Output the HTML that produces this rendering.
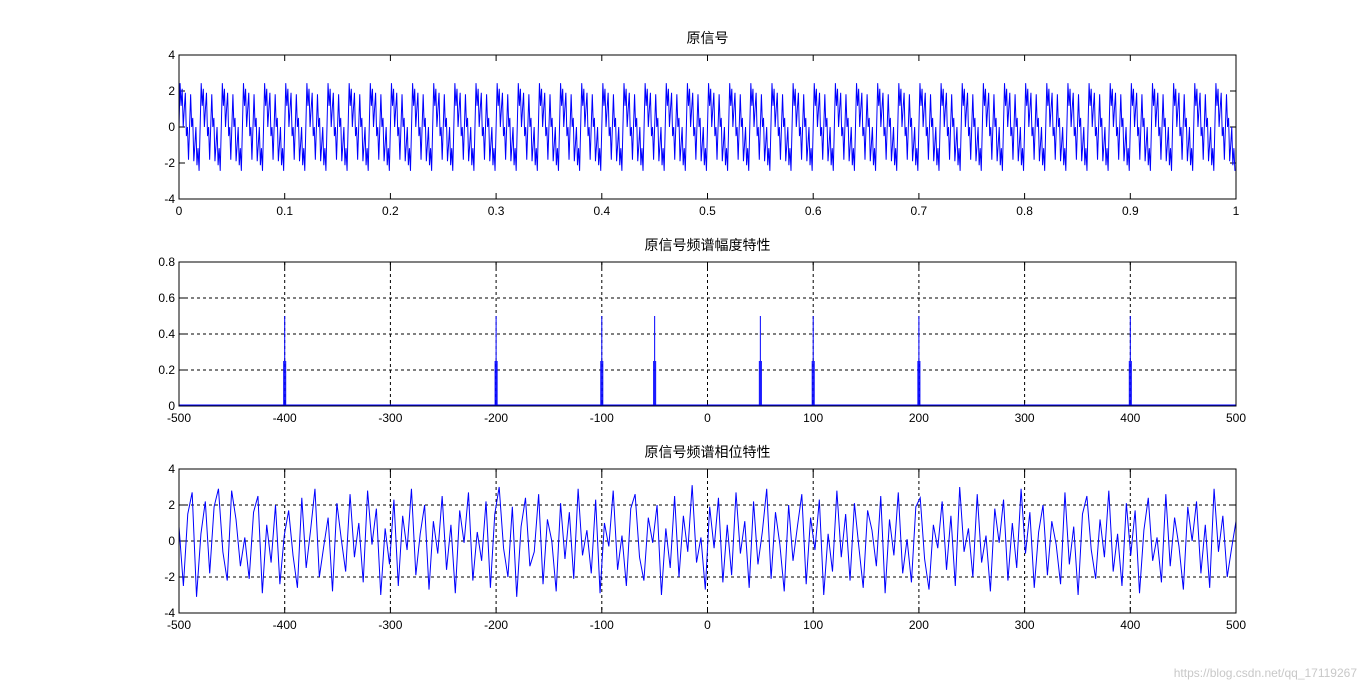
<!DOCTYPE html>
<html><head><meta charset="utf-8"><style>
body{margin:0;background:#fff;}
svg text{font-family:"Liberation Sans","Noto Sans CJK SC",sans-serif;font-size:12px;fill:#000;}
</style></head><body>
<svg id="c" width="1366" height="690" xmlns="http://www.w3.org/2000/svg">
<rect width="1366" height="690" fill="#fff"/>
<text x="1357" y="677" text-anchor="end" style="fill:#c8c8c8;font-size:12px">https://blog.csdn.net/qq_17119267</text>
</svg>
<script>
const sigFreqs=[50,100,200,400];
const sigAmps=[1.0,1.0,1.0,1.0];
const specFreqs=[-400,-200,-100,-50,50,100,200,400];
const specMags=[0.5,0.5,0.5,0.5,0.5,0.5,0.5,0.5];
const specSide=[0.25,0.25,0.25,0.25,0.25,0.25,0.25,0.25];
const phaseVals=[0.8,-2.5,1.5,2.7,-3.1,0.4,2.2,-1.8,1.9,2.9,-0.6,-2.2,2.8,1.2,-1.4,0.2,-2.1,1.6,2.5,-2.9,0.9,-1.2,2.0,-2.4,0.3,1.7,-0.8,-2.6,2.4,-1.5,0.6,2.9,-2.0,-0.3,1.3,-2.8,2.1,0.1,-1.7,2.6,-0.9,1.0,-2.3,2.8,-0.2,1.8,-3.0,0.7,-1.3,2.3,-2.5,1.4,-0.5,2.9,-1.9,0.4,2.0,-2.7,1.1,-0.7,2.5,-1.6,0.9,-2.9,1.7,-0.1,2.7,-2.2,0.5,-1.1,2.2,-2.6,1.5,3.0,-0.4,-2.0,1.9,-3.1,0.8,2.4,-1.4,-0.6,2.6,-2.4,1.2,0.0,-2.8,2.1,-1.0,1.6,-2.1,2.9,-0.8,0.6,-1.8,2.3,-2.9,1.0,-0.3,2.8,-1.6,0.3,-2.5,1.8,2.6,-0.9,-2.2,1.3,-0.1,2.0,-3.0,0.7,-1.5,2.5,-2.0,1.4,-0.6,3.1,-1.2,0.2,-2.7,1.9,-0.4,2.4,-2.3,0.9,-1.9,2.7,-0.7,1.1,-2.6,2.2,-1.3,0.5,2.9,-2.1,1.6,-0.2,-2.8,2.0,-1.1,0.8,2.6,-2.4,1.3,-0.5,2.3,-3.0,0.4,-1.7,2.8,-0.9,1.5,-2.2,2.1,-0.3,-2.6,1.7,0.6,-1.4,2.5,-2.9,1.2,-0.8,2.7,-1.8,0.1,-2.3,1.9,2.4,-1.0,-2.7,0.9,-0.4,2.2,-1.6,1.4,-2.5,3.0,-0.6,0.7,-2.0,2.6,-1.2,0.3,-2.8,1.8,-0.1,2.3,-2.2,1.0,-1.5,2.9,-0.7,1.6,-2.6,0.5,2.0,-1.9,1.1,-0.2,-2.4,2.7,-1.3,0.8,-3.0,1.5,2.5,-0.5,-2.1,1.2,-0.9,2.8,-1.7,0.4,-2.5,2.1,-0.8,1.7,-2.9,0.6,2.4,-1.1,0.2,-2.3,2.6,-1.4,1.3,-0.3,-2.7,1.9,0.0,2.2,-1.8,0.9,-2.6,2.9,-0.6,1.4,-2.0,-0.4,1.1];
const xt1=[0,0.1,0.2,0.3,0.4,0.5,0.6,0.7,0.8,0.9,1];
const yt1=[-4,-2,0,2,4];
const xt2=[-500,-400,-300,-200,-100,0,100,200,300,400,500];
const yt2=[0,0.2,0.4,0.6,0.8];
const yt3=[-4,-2,0,2,4];
const NS="http://www.w3.org/2000/svg";
const svg=document.getElementById('c');
function mk(t,a,p){const e=document.createElementNS(NS,t);for(const k in a)e.setAttribute(k,a[k]);(p||svg).appendChild(e);return e;}
const L=179,R=1236;
function axes(top,bot,x0,x1,y0,y1,xt,yt,grid,title,name){
  const g=mk('g',{});
  
  
  const sx=v=>L+(v-x0)/(x1-x0)*(R-L), sy=v=>bot-(v-y0)/(y1-y0)*(bot-top);
  if(grid){
    xt.forEach(v=>{if(v!==x0&&v!==x1)mk('line',{x1:sx(v),x2:sx(v),y1:top,y2:bot,stroke:'#000','stroke-dasharray':'3,3','stroke-width':1},g);});
    yt.forEach(v=>{if(v!==y0&&v!==y1)mk('line',{x1:L,x2:R,y1:sy(v),y2:sy(v),stroke:'#000','stroke-dasharray':'3,3','stroke-width':1},g);});
  }
  xt.forEach(v=>{
    mk('line',{x1:sx(v),x2:sx(v),y1:bot,y2:bot-6,stroke:'#000'},g);
    mk('line',{x1:sx(v),x2:sx(v),y1:top,y2:top+6,stroke:'#000'},g);
    const t=mk('text',{x:sx(v),y:bot+16,'text-anchor':'middle'},g);t.textContent=v;
    
    
  });
  yt.forEach(v=>{
    mk('line',{x1:L,x2:L+6,y1:sy(v),y2:sy(v),stroke:'#000'},g);
    mk('line',{x1:R,x2:R-6,y1:sy(v),y2:sy(v),stroke:'#000'},g);
    const t=mk('text',{x:L-4,y:sy(v)+4,'text-anchor':'end'},g);t.textContent=v;
    
    
  });
  const tt=mk('text',{x:(L+R)/2,y:top-12,'text-anchor':'middle',style:'font-size:14px'},g);tt.textContent=title;
  
  
  return {g,sx,sy,top,bot};
}
function frame(a){mk('rect',{x:L,y:a.top,width:R-L,height:a.bot-a.top,fill:'none',stroke:'#000'},a.g);}
const a1=axes(55,199,0,1,-4,4,xt1,yt1,false,'原信号','time-signal-plot');
let d='';
for(let n=0;n<1000;n++){const t=n/1000;let v=0;for(let k=0;k<sigFreqs.length;k++)v+=sigAmps[k]*Math.sin(2*Math.PI*sigFreqs[k]*t);d+=(n?'L':'M')+a1.sx(t).toFixed(2)+','+a1.sy(v).toFixed(2);}
const p1=mk('path',{d:d,fill:'none',stroke:'#00f','stroke-width':1},a1.g);


frame(a1);
const a2=axes(262,406,-500,500,0,0.8,xt2,yt2,true,'原信号频谱幅度特性','magnitude-plot');
const base=mk('line',{x1:L,x2:R,y1:a2.sy(0.003),y2:a2.sy(0.003),stroke:'#00f','stroke-width':2},a2.g);


specFreqs.forEach((f,i)=>{
  const s=mk('line',{x1:a2.sx(f),x2:a2.sx(f),y1:a2.sy(0),y2:a2.sy(specMags[i]),stroke:'#00f','stroke-width':1},a2.g);
  
  
  [-1,1].forEach(o=>{const q=mk('line',{x1:a2.sx(f)+o,x2:a2.sx(f)+o,y1:a2.sy(0),y2:a2.sy(specSide[i]),stroke:'#00f','stroke-width':1},a2.g);
    
    });
});
frame(a2);
const a3=axes(469,613,-500,500,-4,4,xt2,yt3,true,'原信号频谱相位特性','phase-plot');
d='';
const N=phaseVals.length;
phaseVals.forEach((v,i)=>{const f=-500+i*1000/(N-1);d+=(i?'L':'M')+a3.sx(f).toFixed(2)+','+a3.sy(v).toFixed(2);});
const p3=mk('path',{d:d,fill:'none',stroke:'#00f','stroke-width':1},a3.g);


frame(a3);
</script>
</body></html>
